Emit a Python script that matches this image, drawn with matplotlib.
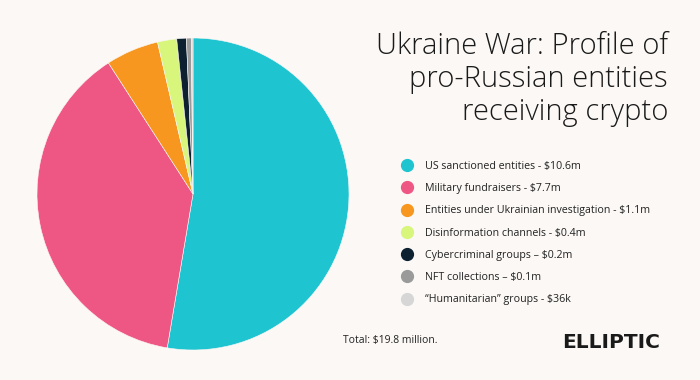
import matplotlib.pyplot as plt
from matplotlib.lines import Line2D

# data
categories = ["US sanctioned entities", "Military fundraisers",
              "Entities under Ukrainian investigation", "Disinformation channels",
              "Cybercriminal groups", "NFT collections", "\u201cHumanitarian\u201d groups"]
values = [10.6, 7.7, 1.1, 0.4, 0.2, 0.1, 0.036]
value_labels = ["$10.6m", "$7.7m", "$1.1m", "$0.4m", "$0.2m", "$0.1m", "$36k"]
separators = ["-", "-", "-", "-", "\u2013", "\u2013", "-"]
colors = ["#1fc4d1", "#ee5784", "#f7971f", "#d8f67c", "#0e2130", "#9a9a9a", "#d6d6d6"]

bg = "#fbf8f5"
W, H = 700, 380

fig = plt.figure(figsize=(7, 3.8), dpi=100, facecolor=bg)

# pie axes, centre ~(193,194) px, radius ~156 px
cx, cy, r = 193, 194, 156
ax = fig.add_axes([(cx - r) / W, (H - cy - r) / H, 2 * r / W, 2 * r / H])
ax.set_facecolor(bg)
ax.pie(values, colors=colors, startangle=90, counterclock=False,
       wedgeprops=dict(linewidth=0.4, edgecolor=bg))
ax.set_xlim(-1, 1)
ax.set_ylim(-1, 1)
ax.set_aspect("equal")
ax.axis("off")

# title
title_lines = ["Ukraine War: Profile of", "pro-Russian entities", "receiving crypto"]
for i, line in enumerate(title_lines):
    fig.text(668 / W, 1 - (46 + i * 33) / H, line, ha="right", va="center",
             fontsize=21, family="Open Sans", weight=300, color="#1a1a1a")

# legend
handles = [Line2D([], [], marker="o", linestyle="none", markersize=8.5,
                  markerfacecolor=c, markeredgecolor=c) for c in colors]
labels = [f"{c} {s} {v}" for c, s, v in zip(categories, separators, value_labels)]
fig.legend(handles, labels, loc="upper left", bbox_to_anchor=(398 / W, 1 - 161 / H),
           frameon=False, labelspacing=1.05, handletextpad=0.9, handlelength=1.6,
           borderaxespad=0, borderpad=0, labelcolor="#222222",
           prop=dict(family="Open Sans", size=7.7))

fig.text(343 / W, 1 - 341 / H, "Total: $19.8 million.", ha="left", va="center",
         fontsize=7.5, family="Open Sans", color="#222222")
fig.text(562 / W, 1 - 342 / H, "ELLIPTIC", ha="left", va="center",
         fontsize=14.5, weight="heavy", family="DejaVu Sans", color="#1a1a1a")

fig.savefig("out.png", dpi=100, facecolor=bg)
